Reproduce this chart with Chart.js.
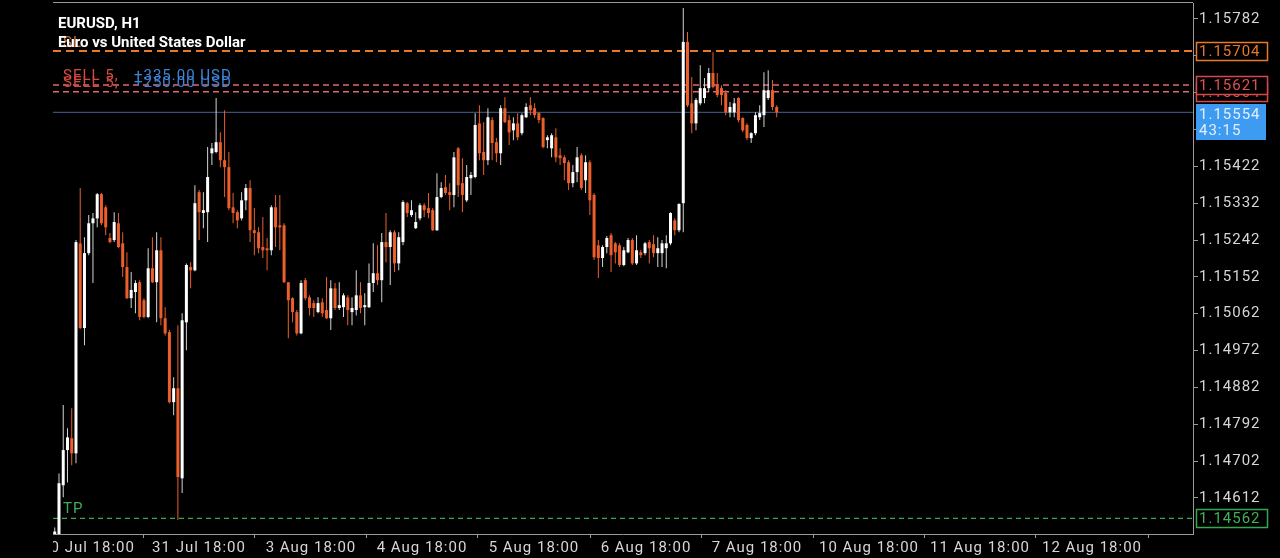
<!DOCTYPE html>
<html>
<head>
<meta charset="utf-8">
<script src="https://cdn.jsdelivr.net/npm/chart.js@4.4.1/dist/chart.umd.min.js"></script>
<style>
html, body { margin: 0; padding: 0; background: #000; overflow: hidden; }
canvas { display: block; }
</style>
</head>
<body>
<canvas id="chart" width="1280" height="558"></canvas>
<script>
// EURUSD H1 candles, oldest first
const opens = [1.14470,
  1.14523,1.14643,1.14729,1.14758,1.14721,1.15234,1.15027,1.15210,1.15283,1.15295,
  1.15354,1.15322,1.15247,1.15242,1.15283,1.15234,1.15176,1.15100,1.15115,1.15139,
  1.15095,1.15054,1.15173,1.15139,1.15217,1.15051,1.15017,1.14846,1.14880,1.14660,
  1.15041,1.15176,1.15168,1.15359,1.15308,1.15310,1.15454,1.15457,1.15481,1.15437,
  1.15420,1.15322,1.15310,1.15295,1.15339,1.15369,1.15266,1.15261,1.15225,1.15222,
  1.15217,1.15322,1.15278,1.15278,1.15139,1.15100,1.15066,1.15014,1.15144,1.15102,
  1.15088,1.15066,1.15090,1.15071,1.15051,1.15124,1.15076,1.15078,1.15102,1.15066,
  1.15071,1.15107,1.15078,1.15078,1.15137,1.15161,1.15144,1.15237,1.15225,1.15261,
  1.15185,1.15237,1.15332,1.15303,1.15271,1.15295,1.15327,1.15320,1.15315,1.15266,
  1.15347,1.15371,1.15359,1.15352,1.15466,1.15381,1.15339,1.15393,1.15396,1.15527,
  1.15457,1.15437,1.15535,1.15481,1.15454,1.15564,1.15535,1.15510,1.15527,1.15503,
  1.15542,1.15571,1.15564,1.15552,1.15540,1.15486,1.15466,1.15493,1.15449,1.15444,
  1.15432,1.15381,1.15408,1.15449,1.15388,1.15432,1.15352,1.15229,1.15198,1.15225,
  1.15254,1.15234,1.15229,1.15181,1.15212,1.15242,1.15185,1.15212,1.15210,1.15237,
  1.15232,1.15210,1.15210,1.15222,1.15234,1.15290,1.15266,1.15332,1.15726,1.15576,
  1.15527,1.15576,1.15589,1.15613,1.15650,1.15620,1.15613,1.15601,1.15554,1.15554,
  1.15589,1.15540,1.15523,1.15491,1.15503,1.15542,1.15547,1.15589,1.15608,1.15567];
const highs = [1.14540,
  1.14672,1.14839,1.14782,1.14831,1.15242,1.15369,1.15249,1.15303,1.15308,1.15357,
  1.15357,1.15327,1.15259,1.15310,1.15308,1.15261,1.15212,1.15164,1.15144,1.15144,
  1.15100,1.15222,1.15249,1.15261,1.15249,1.15078,1.15022,1.14907,1.15034,1.15063,
  1.15185,1.15188,1.15376,1.15364,1.15359,1.15469,1.15479,1.15589,1.15505,1.15559,
  1.15457,1.15357,1.15315,1.15359,1.15379,1.15388,1.15320,1.15273,1.15298,1.15247,
  1.15327,1.15352,1.15352,1.15283,1.15139,1.15102,1.15071,1.15144,1.15149,1.15107,
  1.15095,1.15102,1.15100,1.15152,1.15144,1.15137,1.15139,1.15112,1.15107,1.15102,
  1.15168,1.15139,1.15112,1.15185,1.15234,1.15229,1.15259,1.15308,1.15266,1.15266,
  1.15261,1.15339,1.15335,1.15339,1.15310,1.15332,1.15332,1.15357,1.15320,1.15405,
  1.15383,1.15401,1.15381,1.15457,1.15469,1.15442,1.15425,1.15408,1.15552,1.15571,
  1.15530,1.15564,1.15542,1.15491,1.15571,1.15591,1.15547,1.15542,1.15552,1.15552,
  1.15576,1.15591,1.15576,1.15554,1.15542,1.15498,1.15503,1.15515,1.15466,1.15449,
  1.15437,1.15425,1.15469,1.15454,1.15449,1.15437,1.15357,1.15242,1.15229,1.15252,
  1.15259,1.15237,1.15234,1.15225,1.15247,1.15247,1.15254,1.15217,1.15237,1.15242,
  1.15254,1.15249,1.15242,1.15254,1.15310,1.15295,1.15332,1.15809,1.15750,1.15640,
  1.15589,1.15669,1.15638,1.15662,1.15701,1.15650,1.15620,1.15608,1.15579,1.15589,
  1.15591,1.15542,1.15527,1.15505,1.15554,1.15571,1.15652,1.15657,1.15633,1.15571];
const lows = [1.14440,
  1.14512,1.14614,1.14650,1.14692,1.14697,1.15025,1.14985,1.15205,1.15137,1.15273,
  1.15278,1.15254,1.15234,1.15237,1.15222,1.15152,1.15098,1.15076,1.15063,1.15046,
  1.15051,1.15051,1.15137,1.15041,1.15034,1.15009,1.14843,1.14814,1.14558,1.14624,
  1.14973,1.15124,1.15166,1.15242,1.15271,1.15237,1.15425,1.15454,1.15420,1.15347,
  1.15315,1.15283,1.15271,1.15290,1.15315,1.15237,1.15205,1.15210,1.15198,1.15168,
  1.15205,1.15225,1.15217,1.15137,1.15002,1.15041,1.15009,1.15012,1.15095,1.15058,
  1.15054,1.15063,1.15054,1.15049,1.15022,1.15071,1.15071,1.15054,1.15034,1.15034,
  1.15058,1.15063,1.15034,1.15076,1.15115,1.15132,1.15090,1.15188,1.15132,1.15164,
  1.15168,1.15229,1.15298,1.15298,1.15269,1.15290,1.15298,1.15295,1.15264,1.15264,
  1.15344,1.15352,1.15315,1.15322,1.15347,1.15310,1.15335,1.15352,1.15393,1.15437,
  1.15401,1.15425,1.15437,1.15432,1.15425,1.15528,1.15474,1.15486,1.15486,1.15498,
  1.15540,1.15547,1.15540,1.15527,1.15466,1.15466,1.15444,1.15432,1.15425,1.15388,
  1.15364,1.15371,1.15383,1.15364,1.15357,1.15303,1.15193,1.15149,1.15176,1.15210,
  1.15164,1.15185,1.15176,1.15178,1.15210,1.15181,1.15181,1.15198,1.15205,1.15185,
  1.15200,1.15176,1.15176,1.15173,1.15229,1.15254,1.15261,1.15261,1.15567,1.15503,
  1.15510,1.15571,1.15576,1.15603,1.15613,1.15591,1.15571,1.15547,1.15542,1.15542,
  1.15530,1.15505,1.15486,1.15479,1.15498,1.15535,1.15518,1.15584,1.15559,1.15542];
const closes = [1.14530,
  1.14648,1.14729,1.14760,1.14721,1.15237,1.15027,1.15210,1.15283,1.15295,1.15354,
  1.15283,1.15273,1.15237,1.15286,1.15225,1.15176,1.15100,1.15120,1.15137,1.15054,
  1.15054,1.15173,1.15139,1.15217,1.15051,1.15014,1.14846,1.14880,1.14663,1.15046,
  1.15181,1.15168,1.15332,1.15310,1.15315,1.15396,1.15466,1.15481,1.15437,1.15420,
  1.15320,1.15308,1.15290,1.15339,1.15369,1.15266,1.15259,1.15222,1.15217,1.15217,
  1.15322,1.15273,1.15273,1.15139,1.15095,1.15066,1.15014,1.15137,1.15100,1.15076,
  1.15076,1.15088,1.15063,1.15051,1.15124,1.15076,1.15083,1.15107,1.15071,1.15076,
  1.15107,1.15076,1.15083,1.15137,1.15161,1.15144,1.15237,1.15225,1.15261,1.15185,
  1.15249,1.15335,1.15308,1.15315,1.15286,1.15327,1.15315,1.15308,1.15266,1.15347,
  1.15369,1.15357,1.15352,1.15444,1.15376,1.15352,1.15396,1.15401,1.15523,1.15454,
  1.15437,1.15542,1.15479,1.15454,1.15564,1.15530,1.15505,1.15527,1.15493,1.15547,
  1.15567,1.15559,1.15547,1.15535,1.15469,1.15493,1.15498,1.15444,1.15442,1.15430,
  1.15381,1.15408,1.15444,1.15369,1.15432,1.15339,1.15200,1.15198,1.15225,1.15247,
  1.15205,1.15212,1.15181,1.15217,1.15242,1.15185,1.15217,1.15205,1.15234,1.15222,
  1.15210,1.15222,1.15234,1.15234,1.15308,1.15266,1.15330,1.15726,1.15571,1.15527,
  1.15584,1.15613,1.15613,1.15650,1.15616,1.15596,1.15596,1.15554,1.15567,1.15576,
  1.15535,1.15510,1.15491,1.15503,1.15547,1.15552,1.15608,1.15608,1.15567,1.15554];

// axes
const priceTicks = [1.15782, 1.15692, 1.15602, 1.15512, 1.15422, 1.15332, 1.15242,
  1.15152, 1.15062, 1.14972, 1.14882, 1.14792, 1.14702, 1.14612];
const timeTickPos = [7.83, 33.97, 60.34, 86.48, 112.85, 139.23, 165.36, 191.74, 217.87, 244.25];
const timeTickLabels = ['30 Jul 18:00', '31 Jul 18:00', '3 Aug 18:00', '4 Aug 18:00', '5 Aug 18:00',
  '6 Aug 18:00', '7 Aug 18:00', '10 Aug 18:00', '11 Aug 18:00', '12 Aug 18:00'];
const xMin = -0.41, xMax = 268.03;
const yMin = 1.14524, yMax = 1.15821;

// trade levels
const slPrice = 1.15704;
const sellPrices = [1.15621, 1.15604];
const sellLabels = ['SELL 5,', 'SELL 5,'];
const sellProfits = ['+335.00 USD', '+250.00 USD'];
const tpPrice = 1.14562;
const bidPrice = 1.15554;
const barTimer = '43:15';

const symbolTitle = 'EURUSD, H1';
const symbolName = 'Euro vs United States Dollar';

const BULL = '#ffffff', BULL_WICK = '#d4d4d4', BEAR = '#ec5f2b';
const AXIS = '#9a9a9a', TXT = '#d6d6d6';
const FONT = 'Roboto, "DejaVu Sans", sans-serif';

const isUp = opens.map((o, i) => closes[i] >= o);

function levelLine(price, color, width, dash) {
  return {
    type: 'line',
    data: [{x: xMin, y: price}, {x: xMax, y: price}],
    borderColor: color,
    borderWidth: width,
    borderDash: dash,
    pointRadius: 0,
    order: 10
  };
}

// no label overhang padding: the plot must fill the frame exactly
function noPad(s) {
  s.paddingTop = 0; s.paddingBottom = 0; s.paddingLeft = 0; s.paddingRight = 0;
}

const overlay = {
  id: 'overlay',
  beforeDraw(chart) {
    chart.ctx.letterSpacing = '1px';
  },
  afterDraw(chart) {
    const ctx = chart.ctx;
    const a = chart.chartArea;
    const y = chart.scales.y;
    ctx.save();

    // top frame line
    ctx.strokeStyle = AXIS;
    ctx.lineWidth = 1;
    ctx.beginPath();
    ctx.moveTo(a.left, 2.5);
    ctx.lineTo(a.right, 2.5);
    ctx.stroke();

    // hide the part of the first time label left of the plot
    ctx.fillStyle = '#000';
    ctx.fillRect(0, a.bottom + 1, a.left, chart.height - a.bottom);

    ctx.font = '15px ' + FONT;
    ctx.textBaseline = 'alphabetic';
    ctx.textAlign = 'left';

    // line captions
    ctx.fillStyle = '#c96a2e';
    ctx.fillText('SL', a.left + 10, y.getPixelForValue(slPrice) - 4);
    for (let k = sellPrices.length - 1; k >= 0; k--) {
      const ly = y.getPixelForValue(sellPrices[k]) - 5;
      ctx.fillStyle = '#d24a40';
      ctx.fillText(sellLabels[k], a.left + 10, ly);
      ctx.fillStyle = '#3f84d8';
      ctx.fillText(sellProfits[k], a.left + 81, ly);
    }
    ctx.fillStyle = '#3fae55';
    ctx.fillText('TP', a.left + 10, y.getPixelForValue(tpPrice) - 5);

    // title
    ctx.letterSpacing = '0px';
    ctx.fillStyle = '#ffffff';
    ctx.font = 'bold 15px ' + FONT;
    ctx.fillText(symbolTitle, a.left + 5, 28);
    ctx.fillText(symbolName, a.left + 5, 47);
    ctx.letterSpacing = '1px';

    // price boxes on the right scale
    ctx.font = '15px ' + FONT;
    ctx.textBaseline = 'middle';
    const bx = a.right + 3, bw = 71;
    function box(price, stroke, fill) {
      const py = Math.round(y.getPixelForValue(price));
      ctx.fillStyle = '#000';
      ctx.fillRect(bx, py - 9, bw, 18);
      ctx.strokeStyle = stroke;
      ctx.lineWidth = 1.5;
      ctx.strokeRect(bx + 0.5, py - 8.5, bw, 18);
      ctx.fillStyle = fill;
      ctx.fillText(price.toFixed(5), bx + 3, py + 1);
    }
    box(slPrice, '#e8782a', '#e8782a');
    box(sellPrices[1], '#d84848', '#e05050');
    box(sellPrices[0], '#d84848', '#e05050');
    box(tpPrice, '#34a84a', '#3fb255');

    const by = Math.round(y.getPixelForValue(bidPrice));
    ctx.fillStyle = '#3d9cf2';
    ctx.fillRect(bx, by - 8, bw - 1, 36);
    ctx.fillStyle = '#e4eefa';
    ctx.fillText(bidPrice.toFixed(5), bx + 3, by + 3);
    ctx.fillText(barTimer, bx + 3, by + 19);

    ctx.restore();
  }
};

new Chart(document.getElementById('chart'), {
  type: 'bar',
  data: {
    datasets: [
      {
        type: 'bar',
        data: lows.map((l, i) => ({x: i, y: [l, highs[i]]})),
        backgroundColor: isUp.map(u => u ? BULL_WICK : BEAR),
        barThickness: 1,
        grouped: false,
        inflateAmount: 0,
        order: 2
      },
      {
        type: 'bar',
        data: opens.map((o, i) => ({x: i, y: [o, closes[i]]})),
        backgroundColor: isUp.map(u => u ? BULL : BEAR),
        barThickness: 3,
        minBarLength: 1,
        grouped: false,
        inflateAmount: 0,
        order: 1
      },
      levelLine(slPrice, '#e8782a', 2, [8, 5]),
      levelLine(sellPrices[0], '#de6a6a', 1.5, [6, 4]),
      levelLine(sellPrices[1], '#de6a6a', 1.5, [6, 4]),
      levelLine(tpPrice, '#3aa84e', 1.2, [5, 4]),
      levelLine(bidPrice, '#34507a', 1.2, [])
    ]
  },
  options: {
    responsive: false,
    animation: false,
    events: [],
    layout: {padding: {left: 53, top: 3, right: 0, bottom: 0}},
    plugins: {legend: {display: false}, tooltip: {enabled: false}},
    scales: {
      x: {
        type: 'linear',
        min: xMin,
        max: xMax,
        offset: false,
        bounds: 'data',
        afterBuildTicks: s => { s.ticks = timeTickPos.map(v => ({value: v})); },
        afterFit: s => { s.height = 24; noPad(s); },
        ticks: {
          autoSkip: false,
          maxRotation: 0,
          color: TXT,
          padding: 1,
          font: {family: FONT, size: 15},
          callback: (v, i) => timeTickLabels[i]
        },
        grid: {drawOnChartArea: false, drawTicks: true, tickLength: 4, color: AXIS},
        border: {color: AXIS}
      },
      y: {
        type: 'linear',
        position: 'right',
        min: yMin,
        max: yMax,
        bounds: 'data',
        afterBuildTicks: s => { s.ticks = priceTicks.map(v => ({value: v})); },
        afterFit: s => { s.width = 87; noPad(s); },
        ticks: {
          color: TXT,
          padding: 1,
          font: {family: FONT, size: 15},
          callback: v => v.toFixed(5)
        },
        grid: {drawOnChartArea: false, drawTicks: true, tickLength: 5, color: AXIS},
        border: {color: AXIS}
      }
    }
  },
  plugins: [overlay]
});
</script>
</body>
</html>
